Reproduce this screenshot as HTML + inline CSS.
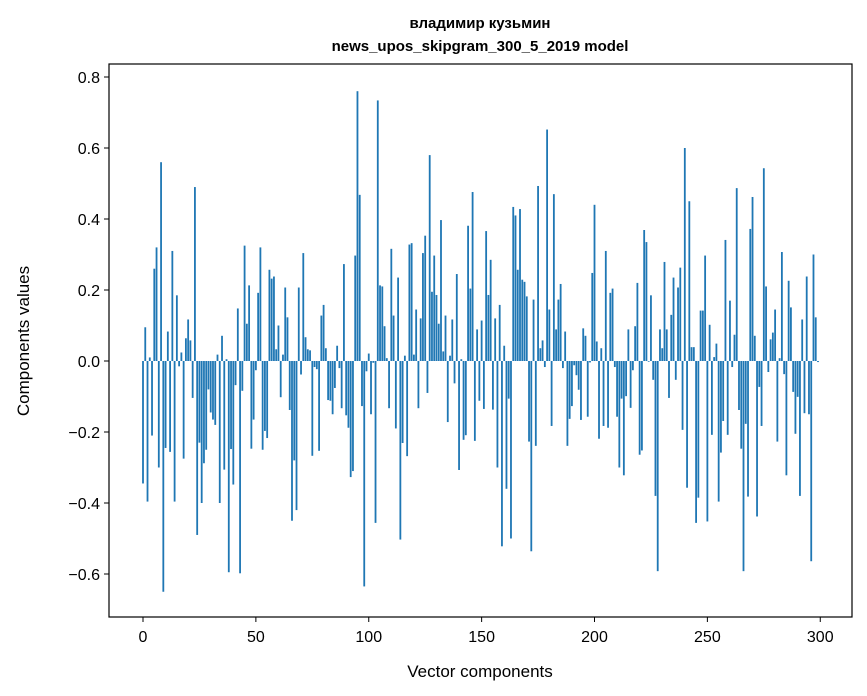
<!DOCTYPE html>
<html><head><meta charset="utf-8"><style>
body{margin:0;background:#fff;}
svg{display:block;font-family:"Liberation Sans","DejaVu Sans",sans-serif;}
</style></head><body>
<svg id="chart" width="867" height="696" viewBox="0 0 867 696">
<text x="480" y="28" text-anchor="middle" font-size="15" font-weight="bold">владимир кузьмин</text>
<text x="480" y="51" text-anchor="middle" font-size="15" font-weight="bold">news_upos_skipgram_300_5_2019 model</text>
<g id="bars"></g>
<g id="axes"></g>
<text x="480" y="677" text-anchor="middle" font-size="17">Vector components</text>
<text transform="translate(29,341) rotate(-90)" text-anchor="middle" font-size="17">Components values</text>
</svg>
<script>
const values = [
-0.345,0.095,-0.396,0.01,-0.21,0.26,0.32,-0.30,0.56,-0.65,
-0.245,0.083,-0.256,0.31,-0.396,0.185,-0.015,0.024,-0.275,0.064,
0.117,0.058,-0.104,0.49,-0.49,-0.23,-0.40,-0.288,-0.25,-0.08,
-0.145,-0.165,-0.18,0.018,-0.40,0.071,-0.306,0.005,-0.595,-0.248,
-0.348,-0.068,0.148,-0.598,-0.084,0.325,0.105,0.213,-0.247,-0.165,
-0.026,0.192,0.32,-0.25,-0.197,-0.217,0.257,0.232,0.238,0.033,
0.1,-0.102,0.018,0.207,0.123,-0.138,-0.45,-0.28,-0.42,0.207,
-0.038,0.304,0.067,0.033,0.03,-0.267,-0.017,-0.023,-0.253,0.128,
0.158,0.036,-0.11,-0.112,-0.15,-0.076,0.043,-0.02,-0.133,0.273,
-0.153,-0.188,-0.327,-0.31,0.297,0.76,0.468,-0.127,-0.635,-0.029,
0.021,-0.15,-0.005,-0.456,0.734,0.213,0.21,0.098,0.008,-0.133,
0.316,0.128,-0.19,0.235,-0.503,-0.231,0.015,-0.268,0.328,0.332,
0.018,0.145,-0.133,0.12,0.304,0.353,-0.09,0.58,0.195,0.297,
0.186,0.105,0.397,0.027,0.128,-0.172,0.015,0.117,-0.063,0.245,
-0.307,0.005,-0.222,-0.209,0.381,0.204,0.476,-0.225,0.089,-0.112,
0.114,-0.135,0.366,0.186,0.285,-0.137,0.12,-0.30,0.158,-0.522,
0.043,-0.36,-0.106,-0.50,0.434,0.41,0.257,0.428,0.229,0.223,
0.182,-0.227,-0.536,0.173,-0.239,0.493,0.036,0.058,-0.017,0.652,
0.145,-0.183,0.47,0.089,0.173,0.217,-0.02,0.083,-0.239,-0.163,
-0.127,-0.012,-0.04,-0.081,-0.166,0.092,0.071,-0.157,-0.004,0.248,
0.44,0.055,-0.219,0.036,-0.183,0.31,-0.188,0.192,0.204,-0.017,
-0.157,-0.30,-0.106,-0.322,-0.099,0.089,-0.132,-0.026,0.098,0.22,
-0.264,-0.252,0.369,0.335,-0.002,0.185,-0.053,-0.38,-0.592,0.089,
0.036,0.279,0.089,-0.104,0.13,0.235,-0.053,0.207,0.263,-0.194,
0.60,-0.357,0.45,0.039,0.039,-0.456,-0.385,0.142,0.142,0.297,
-0.452,0.102,-0.208,0.011,0.049,-0.396,-0.258,-0.169,0.341,-0.208,
0.17,-0.017,0.074,0.487,-0.138,-0.247,-0.592,-0.177,-0.382,0.372,
0.462,0.071,-0.438,-0.073,-0.183,0.543,0.21,-0.031,0.061,0.08,
0.145,-0.227,0.008,0.307,-0.037,-0.322,0.226,0.151,-0.087,-0.205,
-0.101,-0.38,0.117,-0.147,0.238,-0.15,-0.564,0.30,0.123,-0.003
];
const xTicks = [0,50,100,150,200,250,300];
const yTicks = [-0.6,-0.4,-0.2,0.0,0.2,0.4,0.6,0.8];
const yTickLabels = ["\u22120.6","\u22120.4","\u22120.2","0.0","0.2","0.4","0.6","0.8"];

const L=109,R=852,T=64,B=617;
function xs(v){return 143+v*(818-143)/299;}
function ys(v){return 361-v*355;}
const NS="http://www.w3.org/2000/svg";
const bars=document.getElementById('bars');
const bw=0.8*(818-143)/299;
values.forEach((v,i)=>{
  const r=document.createElementNS(NS,'rect');
  const y0=ys(0),y1=ys(v);
  r.setAttribute('x',xs(i)-bw/2);
  r.setAttribute('y',Math.min(y0,y1));
  r.setAttribute('width',bw);
  r.setAttribute('height',Math.max(Math.abs(y1-y0),0.3));
  r.setAttribute('fill','#1f77b4');
  
  
  bars.appendChild(r);
});
const ax=document.getElementById('axes');
const frame=document.createElementNS(NS,'rect');
frame.setAttribute('x',L);frame.setAttribute('y',T);
frame.setAttribute('width',R-L);frame.setAttribute('height',B-T);
frame.setAttribute('fill','none');frame.setAttribute('stroke','#000');frame.setAttribute('stroke-width','1.2');


ax.appendChild(frame);
xTicks.forEach(t=>{
  const x=xs(t);
  const l=document.createElementNS(NS,'line');
  l.setAttribute('x1',x);l.setAttribute('x2',x);l.setAttribute('y1',B);l.setAttribute('y2',B+5);
  l.setAttribute('stroke','#000');l.setAttribute('stroke-width','1');
  
  
  ax.appendChild(l);
  const tx=document.createElementNS(NS,'text');
  tx.setAttribute('x',x);tx.setAttribute('y',B+25);tx.setAttribute('text-anchor','middle');tx.setAttribute('font-size','16');
  tx.textContent=t;
  
  
  ax.appendChild(tx);
});
yTicks.forEach((t,i)=>{
  const y=ys(t);
  const l=document.createElementNS(NS,'line');
  l.setAttribute('x1',L-5);l.setAttribute('x2',L);l.setAttribute('y1',y);l.setAttribute('y2',y);
  l.setAttribute('stroke','#000');l.setAttribute('stroke-width','1');
  
  
  ax.appendChild(l);
  const tx=document.createElementNS(NS,'text');
  tx.setAttribute('x',L-9);tx.setAttribute('y',y+6);tx.setAttribute('text-anchor','end');tx.setAttribute('font-size','16');
  tx.textContent=yTickLabels[i];
  
  
  ax.appendChild(tx);
});
</script>
</body></html>
